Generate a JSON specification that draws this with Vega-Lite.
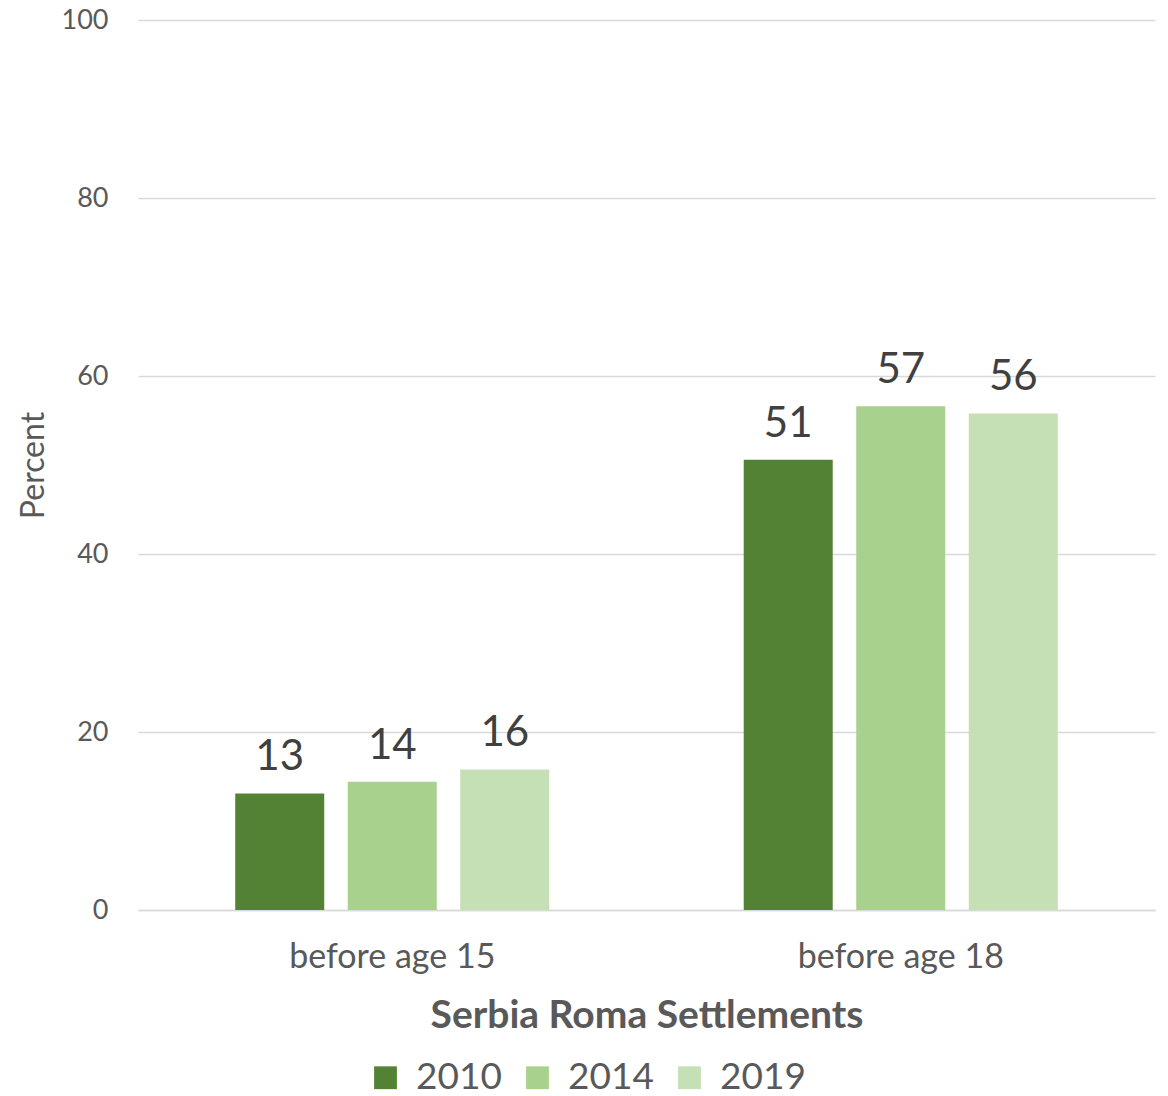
{
  "$schema": "https://vega.github.io/schema/vega-lite/v6.json",
  "autosize": "none",
  "width": 1017,
  "height": 890,
  "padding": {"left": 138, "top": 20, "right": 13, "bottom": 186},
  "background": "white",
  "config": {
    "font": "Lato",
    "view": {"stroke": null}
  },
  "data": {
    "values": [
      {"category": "before age 15", "year": "2010", "value": 13.1},
      {"category": "before age 15", "year": "2014", "value": 14.4},
      {"category": "before age 15", "year": "2019", "value": 15.8},
      {"category": "before age 18", "year": "2010", "value": 50.6},
      {"category": "before age 18", "year": "2014", "value": 56.6},
      {"category": "before age 18", "year": "2019", "value": 55.8}
    ]
  },
  "encoding": {
    "x": {
      "field": "category",
      "type": "nominal",
      "scale": {"paddingInner": 0, "paddingOuter": 0},
      "axis": {
        "title": "Serbia Roma Settlements",
        "titleFontSize": 39,
        "titleFontWeight": "bold",
        "titleColor": "#595959",
        "titlePadding": 22,
        "labelAngle": 0,
        "labelFontSize": 34,
        "labelLimit": 0,
        "labelColor": "#595959",
        "labelPadding": 30,
        "ticks": false,
        "domainColor": "#D9D9D9",
        "domainWidth": 1.5
      }
    },
    "xOffset": {
      "field": "year",
      "type": "nominal",
      "scale": {"paddingInner": 0.209, "paddingOuter": 0.864}
    },
    "y": {
      "field": "value",
      "type": "quantitative",
      "scale": {"domain": [0, 100]},
      "axis": {
        "title": "Percent",
        "titleFontSize": 32,
        "titleFontWeight": "normal",
        "titleColor": "#595959",
        "titleX": -105,
        "titleY": 445,
        "titleAlign": "center",
        "titleBaseline": "middle",
        "titleAngle": -90,
        "values": [0, 20, 40, 60, 80, 100],
        "labelFontSize": 27,
        "labelColor": "#595959",
        "labelPadding": 30,
        "ticks": false,
        "domain": false,
        "gridColor": "#D9D9D9",
        "gridWidth": 1.5
      }
    }
  },
  "layer": [
    {
      "mark": {"type": "bar"},
      "encoding": {
        "color": {
          "field": "year",
          "type": "nominal",
          "scale": {"domain": ["2010", "2014", "2019"], "range": ["#548235", "#A9D18E", "#C5E0B4"]},
          "legend": {
            "title": null,
            "orient": "none",
            "direction": "horizontal",
            "legendX": 229,
            "legendY": 1039,
            "symbolType": "square",
            "symbolSize": 520,
            "symbolStrokeWidth": 0,
            "labelFontSize": 37,
            "labelColor": "#595959",
            "labelOffset": 12,
            "columnPadding": 17
          }
        }
      }
    },
    {
      "mark": {"type": "text", "baseline": "bottom", "dy": -14, "fontSize": 42, "color": "#404040"},
      "encoding": {
        "text": {"field": "value", "type": "quantitative", "format": ".0f"}
      }
    }
  ]
}
